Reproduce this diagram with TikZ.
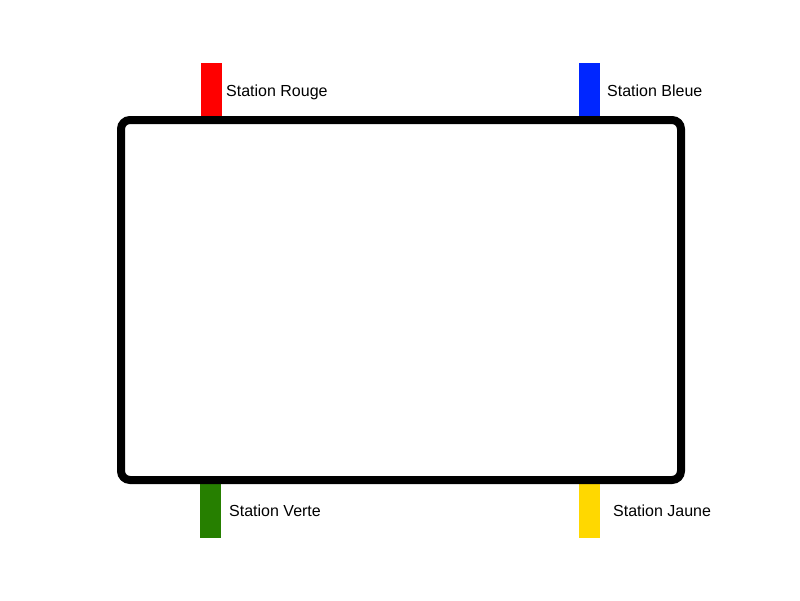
\documentclass[tikz,border=0pt]{standalone}
\usepackage{fontspec}
\setmainfont{Liberation Sans}
\definecolor{rouge}{RGB}{255,0,0}
\definecolor{bleue}{RGB}{0,38,255}
\definecolor{verte}{RGB}{38,127,0}
\definecolor{jaune}{RGB}{255,216,0}
\begin{document}
\begin{tikzpicture}[x=1pt,y=-1pt,
  stbar/.style={draw=none,inner sep=0,minimum width=21pt,minimum height=55pt},
  stlabel/.style={anchor=base west,inner sep=0,font=\fontsize{16pt}{19pt}\selectfont},
  loop/.style={line width=8pt,rounded corners=9pt}]
\useasboundingbox (0,0) rectangle (800,600);
\node[stbar,fill=rouge] (rouge) at (211.5,90.5) {};
\node[stbar,fill=bleue] (bleue) at (589.5,90.5) {};
\node[stbar,fill=verte] (verte) at (210.5,510.5) {};
\node[stbar,fill=jaune] (jaune) at (589.5,510.5) {};
\coordinate (tl) at (121,120);
\coordinate (br) at (681,480);
\draw[loop] (tl) rectangle (br);
\node[stlabel] (lr) at (226,96.3) {Station Rouge};
\node[stlabel] (lb) at (607,96.7) {Station Bleue};
\node[stlabel] (lv) at (229,516.8) {Station Verte};
\node[stlabel] (lj) at (613,516.8) {Station Jaune};
\end{tikzpicture}
\end{document}
